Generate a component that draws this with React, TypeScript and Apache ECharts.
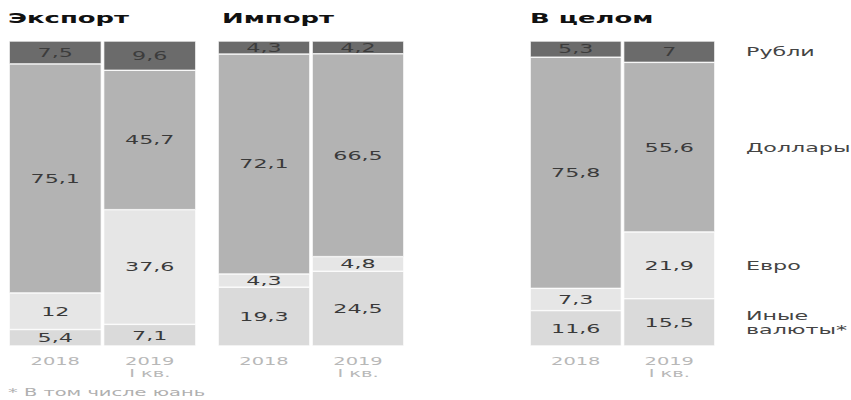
import React, { useEffect, useRef } from "react";
import * as echarts from "echarts";

// Data (bottom → top: other, euro, dollars, rubles)
const categories = ["2018", "2019\nI кв."];
const panelTitles = ["Экспорт", "Импорт", "В целом"];
const currencyNames = ["Иные валюты*", "Евро", "Доллары", "Рубли"];
const legendLabels = ["Иные\nвалюты*", "Евро", "Доллары", "Рубли"];
const footnote = "* В том числе юань";

const exportOther = [5.4, 7.1];
const exportEuro = [12, 37.6];
const exportUsd = [75.1, 45.7];
const exportRub = [7.5, 9.6];

const importOther = [19.3, 24.5];
const importEuro = [4.3, 4.8];
const importUsd = [72.1, 66.5];
const importRub = [4.3, 4.2];

const totalOther = [11.6, 15.5];
const totalEuro = [7.3, 21.9];
const totalUsd = [75.8, 55.6];
const totalRub = [5.3, 7];

const panels = [
  [exportOther, exportEuro, exportUsd, exportRub],
  [importOther, importEuro, importUsd, importRub],
  [totalOther, totalEuro, totalUsd, totalRub],
];

const colors = ["#dadada", "#e6e6e6", "#b3b3b3", "#6b6b6b"];
const labelColors = ["#3a3a3a", "#3a3a3a", "#3a3a3a", "#3c3c3c"];
const FONT = "DejaVu Sans";
const SX = 1.85; // horizontal stretch of the reference
const W = 851 / SX;

export default function App() {
  const ref = useRef<HTMLDivElement>(null);
  useEffect(() => {
    if (!ref.current) return;
    const chart = echarts.init(ref.current, null, { renderer: "svg" });
    const gridLefts = [8, 217, 529];
    const gridWidths = [189, 188, 187];
    const grids = gridLefts.map((l, i) => ({
      left: l / SX,
      width: gridWidths[i] / SX,
      top: 41,
      height: 305,
    }));
    const xAxes = grids.map((_, i) => ({
      type: "category",
      gridIndex: i,
      data: categories,
      axisLine: { show: false },
      axisTick: { show: false },
      axisLabel: {
        color: "#b8b8b8",
        fontSize: 10.5,
        lineHeight: 12.5,
        margin: 9,
        fontFamily: FONT,
      },
    }));
    const yAxes = grids.map((_, i) => ({
      type: "value",
      gridIndex: i,
      min: 0,
      max: 100,
      show: false,
    }));
    const series: any[] = [];
    panels.forEach((panel, g) => {
      panel.forEach((vals, k) => {
        series.push({
          type: "bar",
          name: currencyNames[k],
          xAxisIndex: g,
          yAxisIndex: g,
          stack: "p" + g,
          data: vals,
          barCategoryGap: "2%",
          itemStyle: { color: colors[k], borderColor: "#ffffff", borderWidth: 0.5 },
          label: {
            show: true,
            position: "inside",
            formatter: (p: any) => String(p.value).replace(".", ","),
            color: labelColors[k],
            fontSize: 12,
            fontFamily: FONT,
          },
        });
      });
    });
    chart.setOption({
      animation: false,
      grid: grids,
      xAxis: xAxes,
      yAxis: yAxes,
      series,
    });

    const titleX = [8, 222, 530];
    const graphic: any[] = panelTitles.map((t, i) => ({
      type: "text",
      left: titleX[i] / SX,
      top: 11,
      style: {
        text: t,
        fontSize: 14,
        fontWeight: "bold",
        fontFamily: FONT,
        fill: "#111111",
      },
    }));
    // legend labels aligned with the 2019 "total" segments
    const tot = panels[2];
    let cum = 0;
    tot.forEach((vals, k) => {
      const mid = cum + vals[1] / 2;
      cum += vals[1];
      const pt = chart.convertToPixel({ xAxisIndex: 2, yAxisIndex: 2 } as any, [1, mid]) as number[];
      graphic.push({
        type: "text",
        x: 746 / SX,
        y: pt[1],
        style: {
          text: legendLabels[k],
          fontSize: 12,
          lineHeight: 14,
          fontFamily: FONT,
          fill: "#444444",
          verticalAlign: "middle",
          textVerticalAlign: "middle",
        },
      });
    });
    graphic.push({
      type: "text",
      left: 8 / SX,
      top: 387,
      style: { text: footnote, fontSize: 10.5, fontFamily: FONT, fill: "#b0b0b0" },
    });
    chart.setOption({ graphic });
    return () => chart.dispose();
  }, []);
  return (
    <div
      ref={ref}
      style={{
        position: "fixed",
        left: 0,
        top: 0,
        width: W,
        height: 400,
        transform: `scaleX(${SX})`,
        transformOrigin: "0 0",
        background: "#ffffff",
      }}
    />
  );
}
